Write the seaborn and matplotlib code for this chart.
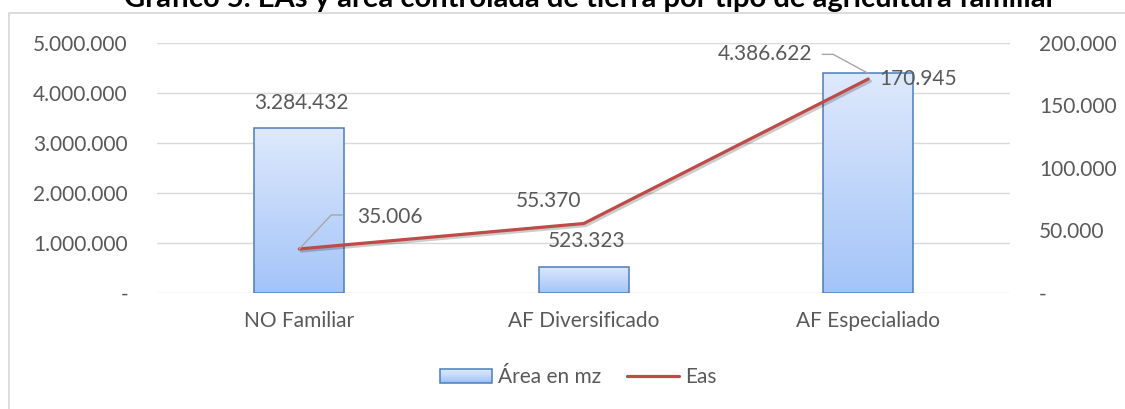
import numpy as np
import matplotlib
matplotlib.use('Agg')
import matplotlib.pyplot as plt
import seaborn as sns
from matplotlib.colors import LinearSegmentedColormap
from matplotlib.lines import Line2D
from matplotlib.patches import Patch, Rectangle
from matplotlib.legend_handler import HandlerBase
from matplotlib.ticker import FuncFormatter, MultipleLocator
import matplotlib.patheffects as pe

# datos del grafico
categorias = ['NO Familiar', 'AF Diversificado', 'AF Especialiado']
area_mz = [3284432, 523323, 4386622]
eas = [35006, 55370, 170945]

titulo = 'Gráfico 5. EAs y área controlada de tierra por tipo de agricultura familiar'

sns.set_style('white')
plt.rcParams['font.family'] = ['Lato', 'DejaVu Sans']

gris = '#595959'
azul_borde = '#4A7EBB'
rojo = '#BE4B48'
fs = 15
H = 409

fig = plt.figure(figsize=(11.25, 4.09), dpi=100)
ax = fig.add_axes([0.1396, 0.2843, 0.7586, 0.6113])

sns.barplot(x=categorias, y=area_mz, ax=ax, width=0.316, color='#C5D9FA',
            saturation=1, edgecolor=azul_borde, linewidth=1.1, zorder=2)

# degradado dentro de las barras
cmap = LinearSegmentedColormap.from_list('deg', ['#A3C4F8', '#DEE9FC'])
grad = np.linspace(0, 1, 256).reshape(-1, 1)
for p in ax.patches:
    x0, y0 = p.get_x(), p.get_y()
    w, h = p.get_width(), p.get_height()
    im = ax.imshow(grad, extent=[x0, x0 + w, y0, y0 + h], origin='lower',
                   aspect='auto', cmap=cmap, zorder=2.1)
    im.set_clip_path(p)
    p.set_facecolor('none')
    p.set_zorder(2.2)

ax.set_xlim(-0.5, 2.5)
ax.set_ylim(0, 5000000)
ax.yaxis.set_major_locator(MultipleLocator(1000000))
fmt = FuncFormatter(lambda v, pos: '-' if v == 0 else f'{v:,.0f}'.replace(',', '.'))
ax.yaxis.set_major_formatter(fmt)
ax.grid(axis='y', color='#D9D9D9', lw=1.0)
ax.set_axisbelow(True)
for s in ax.spines.values():
    s.set_visible(False)
ax.tick_params(axis='y', length=0, pad=21, labelsize=fs, labelcolor=gris)
ax.tick_params(axis='x', length=0, pad=13, labelsize=fs, labelcolor=gris)
ax.set_xlabel('')
ax.set_ylabel('')

ax2 = ax.twinx()
sns.lineplot(x=categorias, y=eas, ax=ax2, color=rojo, lw=2.3, sort=False,
             path_effects=[pe.SimpleLineShadow(offset=(1.5, -1.5), alpha=0.2),
                           pe.Normal()])
ax2.set_ylim(0, 200000)
ax2.yaxis.set_major_locator(MultipleLocator(50000))
ax2.yaxis.set_major_formatter(fmt)
for s in ax2.spines.values():
    s.set_visible(False)
ax2.tick_params(axis='y', length=0, pad=20.5, labelsize=fs, labelcolor=gris)
ax2.set_ylabel('')
ax2.set_xlim(-0.5, 2.5)

def etiqueta(xv, yv, texto, dx, dy, ha='center', eje=ax2):
    eje.annotate(texto, (xv, yv), xytext=(dx, dy), textcoords='offset pixels',
                 ha=ha, va='center', fontsize=fs, color=gris, zorder=5)

lbl = lambda v: f'{v:,.0f}'.replace(',', '.')

# etiquetas de barras (eje izquierdo)
etiqueta(0, area_mz[0], lbl(area_mz[0]), 2, 25, eje=ax)
etiqueta(1, area_mz[1], lbl(area_mz[1]), 3, 26, eje=ax)
etiqueta(2, area_mz[2], lbl(area_mz[2]), -56, 19, ha='right', eje=ax)
# etiquetas de la linea
etiqueta(0, eas[0], lbl(eas[0]), 58, 32, ha='left')
etiqueta(1, eas[1], lbl(eas[1]), -35, 23)
etiqueta(2, eas[2], lbl(eas[2]), 11, 0, ha='left')

# lineas guia de las etiquetas
fig.canvas.draw()
inv = fig.transFigure.inverted()
def guia_px(eje, xv, yv, offs):
    bx, by = eje.transData.transform((xv, yv))
    xs, ys = [], []
    for dx, dy in [(0, 0)] + offs:
        fx, fy = inv.transform((bx + dx, by + dy))
        xs.append(fx)
        ys.append(fy)
    fig.add_artist(Line2D(xs, ys, color='#A6A6A6', lw=1.0, zorder=4))

guia_px(ax2, 0, eas[0], [(32, 34), (43, 34)])
guia_px(ax, 2, area_mz[2], [(-35, 19), (-46, 19)])

# parche de leyenda con degradado
class HandlerDegradado(HandlerBase):
    def create_artists(self, legend, orig, xd, yd, width, height, fontsize, trans):
        n = 12
        arts = []
        for i in range(n):
            c = cmap(i / (n - 1))
            arts.append(Rectangle((xd * -1, -yd + height * i / n), width, height / n + 0.3,
                                  facecolor=c, edgecolor='none', transform=trans))
        arts.append(Rectangle((-xd, -yd), width, height, facecolor='none',
                              edgecolor=azul_borde, lw=1.1, transform=trans))
        return arts

hs = [Patch(facecolor='#C5D9FA', edgecolor=azul_borde, lw=1.1),
      Line2D([0], [0], color=rojo, lw=2.3)]
fig.legend(hs, ['Área en mz', 'Eas'], loc='center', bbox_to_anchor=(0.514, 0.078),
           ncol=2, frameon=False, fontsize=fs, labelcolor=gris,
           handlelength=2.5, handleheight=0.62, handletextpad=0.3, columnspacing=1.25,
           handler_map={Patch: HandlerDegradado()})

# titulo (cortado arriba como en el original)
fig.text(0.525, 1 - 7 / H, titulo, ha='center', va='baseline', fontsize=21,
         fontweight='bold', color='black')

# borde del area del grafico
fig.add_artist(Line2D([8.5 / 1125, 8.5 / 1125, 1.0], [0, 1 - 13.3 / H, 1 - 13.3 / H],
                      color='#D9D9D9', lw=1.3))

fig.savefig('out.png', dpi=100)
